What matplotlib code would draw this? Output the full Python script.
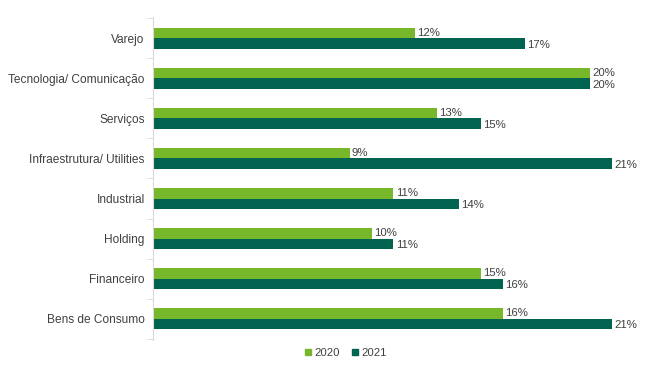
import matplotlib
matplotlib.use('Agg')
import matplotlib.pyplot as plt
import numpy as np
from matplotlib.lines import Line2D

plt.rcParams['font.family'] = ['Liberation Sans', 'DejaVu Sans']

categories = ['Varejo', 'Tecnologia/ Comunicação', 'Serviços', 'Infraestrutura/ Utilities',
              'Industrial', 'Holding', 'Financeiro', 'Bens de Consumo']
v2020 = [12, 20, 13, 9, 11, 10, 15, 16]
v2021 = [17, 20, 15, 21, 14, 11, 16, 21]
years = ['2020', '2021']

c2020 = '#76b82a'
c2021 = '#006450'
txt = '#404040'

fig = plt.figure(figsize=(6.48, 3.70), dpi=100)
ax = fig.add_axes([153/648, 30/370, 487/648, 323/370])

y = np.arange(len(categories))
h = 0.265
ax.barh(y - h/2, v2020, height=h, color=c2020, label=years[0])
ax.barh(y + h/2, v2021, height=h, color=c2021, label=years[1])

for yi, a, b in zip(y, v2020, v2021):
    ax.text(a + 0.1, yi - h/2, f'{a}%', va='center', ha='left', fontsize=8.2, color=txt)
    ax.text(b + 0.1, yi + h/2 + 0.03, f'{b}%', va='center', ha='left', fontsize=8.2, color=txt)

ax.set_ylim(len(categories) - 0.47, -0.53)
ax.set_xlim(0, 487 / 21.86)
ax.set_yticks(y)
ax.set_yticklabels(categories, fontsize=8.6, color=txt)
ax.set_yticks(np.arange(-0.5, len(categories), 1), minor=True)
ax.tick_params(axis='y', which='major', length=0, pad=6)
ax.tick_params(axis='y', which='minor', length=4, color='#d9d9d9')
ax.set_xticks([])
for s in ['top', 'right', 'bottom']:
    ax.spines[s].set_visible(False)
ax.spines['left'].set_color('#d9d9d9')

handles = [Line2D([], [], marker='s', ls='', color=c2020, markersize=5),
           Line2D([], [], marker='s', ls='', color=c2021, markersize=5)]
fig.legend(handles, years, loc='center', bbox_to_anchor=(344/648, 1 - 353/370), ncol=2,
           frameon=False, fontsize=8.2, handletextpad=0.0, columnspacing=0.7,
           handlelength=1.2, labelcolor=txt)

fig.savefig('out.png', dpi=100)
